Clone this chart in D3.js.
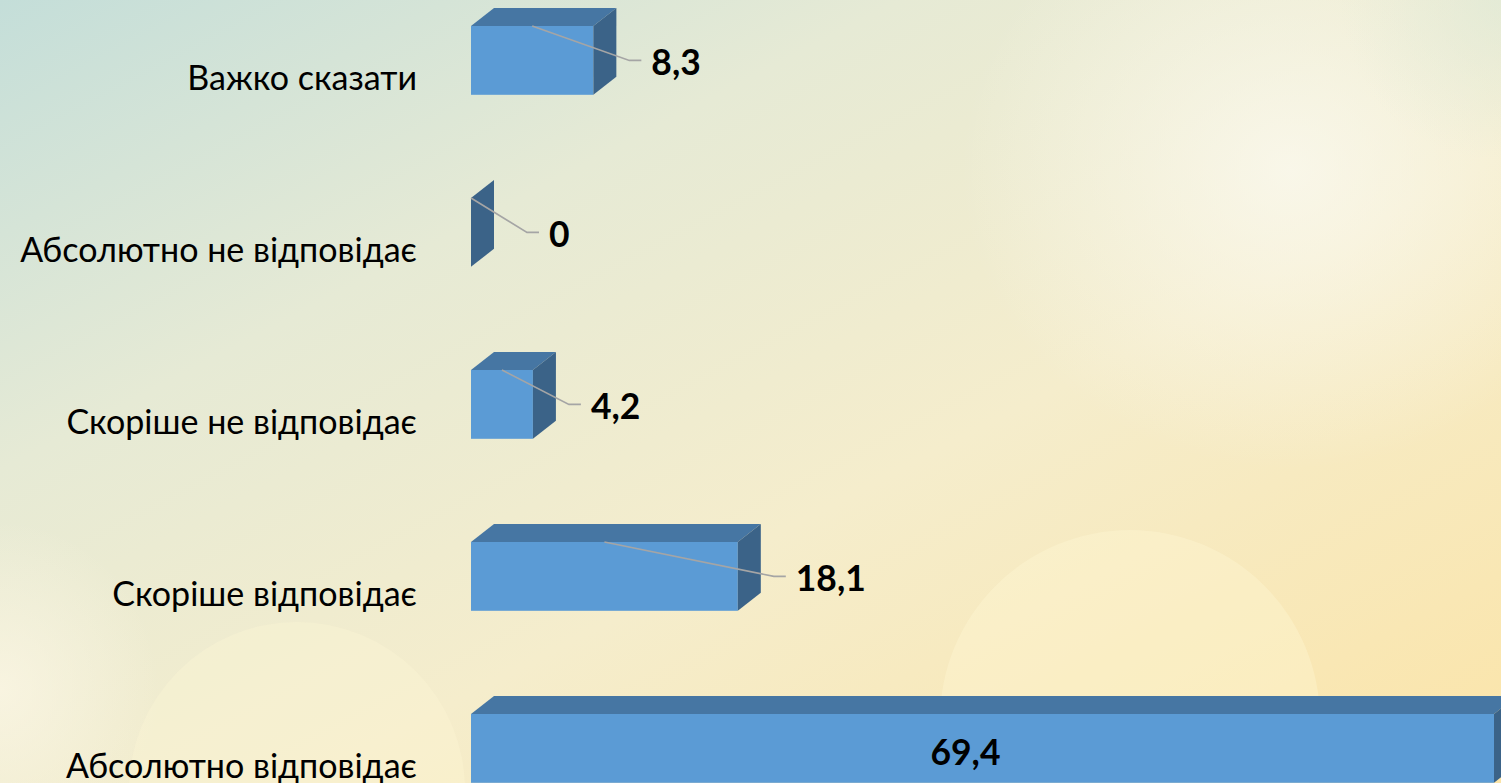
<!DOCTYPE html>
<html>
<head>
<meta charset="utf-8">
<script src="https://cdn.jsdelivr.net/npm/d3@7"></script>
<style>
  html, body { margin: 0; padding: 0; overflow: hidden; }
  svg { display: block; }
</style>
</head>
<body>
<svg id="chart" width="1501" height="783"></svg>
<script>
// ---- data ----
const categories = [
  "Важко сказати",
  "Абсолютно не відповідає",
  "Скоріше не відповідає",
  "Скоріше відповідає",
  "Абсолютно відповідає"
];
const values = [8.3, 0, 4.2, 18.1, 69.4];
const valueLabels = ["8,3", "0", "4,2", "18,1", "69,4"];

// ---- layout ----
const W = 1501, H = 783;
const svg = d3.select("#chart");
const defs = svg.append("defs");

// background
const lg = defs.append("linearGradient").attr("id", "bgLin")
  .attr("x1", "0").attr("y1", "0").attr("x2", "1").attr("y2", "1");
lg.append("stop").attr("offset", "0").attr("stop-color", "#c4ded9");
lg.append("stop").attr("offset", "0.3").attr("stop-color", "#e6ead5");
lg.append("stop").attr("offset", "0.6").attr("stop-color", "#f5edcc");
lg.append("stop").attr("offset", "1").attr("stop-color", "#fbe4a8");
svg.append("rect").attr("width", W).attr("height", H).attr("fill", "url(#bgLin)");

function radial(id, color, op) {
  const g = defs.append("radialGradient").attr("id", id);
  g.append("stop").attr("offset", "0").attr("stop-color", color).attr("stop-opacity", op);
  g.append("stop").attr("offset", "1").attr("stop-color", color).attr("stop-opacity", 0);
}
radial("glowTR", "#fbfaf2", 0.75);
radial("glowL", "#fbf6e4", 0.8);
radial("glowTopGreen", "#dbe8d8", 0.6);
svg.append("ellipse").attr("cx", 1290).attr("cy", 170).attr("rx", 330).attr("ry", 300).attr("fill", "url(#glowTR)");
svg.append("ellipse").attr("cx", 0).attr("cy", 690).attr("rx", 160).attr("ry", 170).attr("fill", "url(#glowL)");
svg.append("ellipse").attr("cx", 1500).attr("cy", 0).attr("rx", 160).attr("ry", 160).attr("fill", "url(#glowTopGreen)");
// bokeh circles
svg.append("circle").attr("cx", 1130).attr("cy", 720).attr("r", 190).attr("fill", "#fff8d8").attr("opacity", 0.35);
svg.append("circle").attr("cx", 297).attr("cy", 790).attr("r", 168).attr("fill", "#fff8d8").attr("opacity", 0.3);

// scales
const x0 = 471;
const x = d3.scaleLinear().domain([0, 69.4]).range([x0, 1494]);
const y = d3.scaleBand().domain(categories).range([-25.6, 834.4])
  .paddingInner(0.6).paddingOuter(0.3);
const DX = 23, DY = -18;

const colFront = "#5b9bd5", colTop = "#4676a3", colSide = "#3b6388";

const g = svg.append("g");
categories.forEach((c, i) => {
  const v = values[i];
  const xl = x(0), xr = x(v);
  const yt = y(c), yb = y(c) + y.bandwidth();
  if (v > 0) {
    // front
    g.append("rect").attr("x", xl).attr("y", yt).attr("width", xr - xl).attr("height", yb - yt).attr("fill", colFront);
    // top
    g.append("path").attr("d", `M${xl},${yt}L${xl + DX},${yt + DY}L${xr + DX},${yt + DY}L${xr},${yt}Z`).attr("fill", colTop);
  }
  // side
  g.append("path").attr("d", `M${xr},${yt}L${xr + DX},${yt + DY}L${xr + DX},${yb + DY}L${xr},${yb}Z`).attr("fill", colSide);
});

// category labels
const labelFont = "Lato, 'Open Sans', 'Noto Sans', sans-serif";
const catLabels = svg.append("g").selectAll("text").data(categories).join("text")
  .attr("x", 417)
  .attr("y", d => y(d) + y.bandwidth() / 2 + 16)
  .attr("text-anchor", "end")
  .attr("dominant-baseline", "central")
  .attr("font-family", labelFont)
  .attr("font-size", 32)
  .attr("fill", "#000")
  .text(d => d);
// fit size to reference width of longest label
{
  const node = catLabels.filter((d, i) => i === 1).node();
  const w = node.getComputedTextLength();
  const fs = 32 * 397 / w;
  catLabels.attr("font-size", fs);
}

// value labels with leader lines
const valG = svg.append("g");
const labelGap = 58;
categories.forEach((c, i) => {
  const v = values[i];
  const yc = y(c) + y.bandwidth() / 2;
  if (i === 4) {
    valG.append("text")
      .attr("x", (x(0) + x(v)) / 2 - 17)
      .attr("y", y(c) + y.bandwidth() / 2 + 3)
      .attr("text-anchor", "middle")
      .attr("dominant-baseline", "central")
      .attr("font-family", labelFont).attr("font-weight", "bold")
      .attr("class", "vlab")
      .text(valueLabels[i]);
    return;
  }
  const lx = x(v) + labelGap + (v === 0 ? 20 : 0);
  const sx = (x(0) + x(v)) / 2, sy = y(c);
  valG.append("path")
    .attr("d", `M${sx},${sy}L${lx - 22},${yc}L${lx - 10},${yc}`)
    .attr("fill", "none").attr("stroke", "#a5a5a5").attr("stroke-width", 1.6);
  valG.append("text")
    .attr("x", lx).attr("y", yc + 1)
    .attr("dominant-baseline", "central")
    .attr("font-family", labelFont).attr("font-weight", "bold")
    .attr("class", "vlab")
    .text(valueLabels[i]);
});
{
  const vl = svg.selectAll(".vlab").attr("font-size", 34);
  const n = vl.filter((d, i) => i === 3).node();
  const w = n.getComputedTextLength();
  vl.attr("font-size", 34 * 70 / w).attr("fill", "#000");
}
</script>
</body>
</html>
